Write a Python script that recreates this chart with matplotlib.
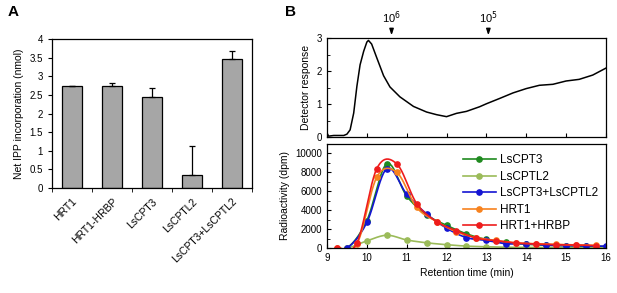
import numpy as np
import matplotlib
matplotlib.use("Agg")
import matplotlib.pyplot as plt
from matplotlib.ticker import MultipleLocator, FixedLocator, NullFormatter, FormatStrFormatter

plt.rcParams['font.family'] = ['Liberation Sans', 'DejaVu Sans']

# panel A data
constructs = ["HRT1", "HRT1-HRBP", "LsCPT3", "LsCPTL2", "LsCPT3+LsCPTL2"]
ipp = [2.75, 2.75, 2.45, 0.35, 3.45]
ipp_err = [0.0, 0.08, 0.23, 0.78, 0.22]

# panel B top: detector trace
det_t = [9.0, 9.04, 9.17, 9.42, 9.5, 9.58, 9.67, 9.75, 9.83, 9.92, 10.0, 10.04,
         10.12, 10.25, 10.42, 10.58, 10.83, 11.17, 11.5, 11.75, 12.0, 12.25,
         12.5, 12.83, 13.0, 13.33, 13.67, 14.0, 14.33, 14.67, 15.0, 15.33,
         15.67, 16.0]
det_r = [0.12, 0.03, 0.05, 0.05, 0.09, 0.22, 0.73, 1.54, 2.19, 2.6, 2.88, 2.93,
         2.82, 2.4, 1.86, 1.52, 1.22, 0.93, 0.76, 0.68, 0.62, 0.72,
         0.78, 0.92, 1.01, 1.17, 1.34, 1.47, 1.57, 1.6, 1.7, 1.75,
         1.88, 2.09]
markers_mw = [10.62, 13.05]
markers_lbl = ["10$^6$", "10$^5$"]

# panel B bottom: radioactivity
t_half = [9.5, 10.0, 10.5, 11.0, 11.5, 12.0, 12.5, 13.0, 13.5, 14.0, 14.5, 15.0, 15.5, 16.0]
lscpt3 = [0, 2900, 8900, 5500, 3500, 2400, 1500, 900, 600, 400, 300, 250, 200, 150]
lscptl2 = [0, 750, 1350, 850, 550, 350, 200, 130, 80, 60, 50, 40, 30, 30]
lscpt3_lscptl2 = [0, 2700, 8400, 5700, 3600, 2100, 1100, 800, 450, 450, 300, 250, 200, 200]
t_quarter = [9.25, 9.75, 10.25, 10.75, 11.25, 11.75, 12.25, 12.75, 13.25, 13.75, 14.25, 14.75, 15.25, 15.75]
hrt1 = [0, 400, 7500, 8000, 4300, 2800, 1700, 1100, 800, 550, 450, 380, 330, 280]
hrt1_hrbp = [0, 530, 8400, 8900, 4700, 2800, 1820, 1050, 770, 530, 420, 350, 320, 250]


def smooth(x, y, n=12):
    # catmull-rom style smoothing, like the Excel "smoothed line"
    x = np.asarray(x, float)
    y = np.asarray(y, float)
    px = np.concatenate([[2 * x[0] - x[1]], x, [2 * x[-1] - x[-2]]])
    py = np.concatenate([[y[0]], y, [y[-1]]])
    xs, ys = [], []
    s = np.linspace(0, 1, n, endpoint=False)
    for i in range(1, len(px) - 2):
        for p, out in ((px, xs), (py, ys)):
            p0, p1, p2, p3 = p[i - 1], p[i], p[i + 1], p[i + 2]
            out.append(0.5 * (2 * p1 + (-p0 + p2) * s + (2 * p0 - 5 * p1 + 4 * p2 - p3) * s ** 2
                              + (-p0 + 3 * p1 - 3 * p2 + p3) * s ** 3))
    xs.append([x[-1]])
    ys.append([y[-1]])
    return np.concatenate(xs), np.concatenate(ys)


fig = plt.figure(figsize=(6.17, 2.93), dpi=100)

# ---- panel A
ax = fig.add_axes([0.0843, 0.358, 0.324, 0.509])
pos = np.arange(len(constructs))
ax.bar(pos, ipp, width=0.5, color="#a6a6a6", edgecolor="black", linewidth=0.9, zorder=2)
ax.errorbar(pos, ipp, yerr=[np.zeros(len(ipp)), ipp_err], fmt="none", ecolor="black",
            elinewidth=0.9, capsize=2.5, capthick=0.9, zorder=3)
ax.set_xlim(-0.5, len(constructs) - 0.5)
ax.set_ylim(0, 4)
ax.yaxis.set_major_locator(MultipleLocator(0.5))
ax.yaxis.set_major_formatter(FormatStrFormatter("%g"))
ax.set_xticks(pos)
ax.set_xticklabels(constructs, rotation=45, ha="right", rotation_mode="anchor", fontsize=7.5)
ax.tick_params(axis="x", length=0, pad=6)
ax.xaxis.set_minor_locator(FixedLocator(np.arange(-0.5, len(constructs), 1.0)))
ax.tick_params(axis="x", which="minor", length=3, direction="out")
ax.tick_params(axis="y", labelsize=7, length=3, direction="out")
ax.set_ylabel("Net IPP incorporation (nmol)", fontsize=7.5)
for s in ax.spines.values():
    s.set_linewidth(0.9)
fig.text(0.012, 0.945, "A", fontsize=11, fontweight="bold")

# ---- panel B top
bt = fig.add_axes([0.530, 0.532, 0.452, 0.338])
bt.plot(det_t, det_r, color="black", lw=1.1)
bt.set_xlim(9, 16)
bt.set_ylim(0, 3)
bt.yaxis.set_major_locator(MultipleLocator(1))
bt.yaxis.set_minor_locator(MultipleLocator(0.5))
bt.xaxis.set_major_locator(MultipleLocator(1))
bt.xaxis.set_major_formatter(NullFormatter())
bt.tick_params(axis="both", which="both", direction="in", labelsize=7)
bt.tick_params(axis="both", which="major", length=3)
bt.tick_params(axis="both", which="minor", length=2)
bt.set_ylabel("Detector response", fontsize=7.5)
for m, lbl in zip(markers_mw, markers_lbl):
    bt.annotate("", xy=(m, 3.0), xytext=(m, 3.35), xycoords="data", annotation_clip=False,
                arrowprops=dict(arrowstyle="-|>,head_length=0.35,head_width=0.12", color="black", lw=1))
    bt.text(m, 3.38, lbl, ha="center", va="bottom", fontsize=8, clip_on=False)
for s in bt.spines.values():
    s.set_linewidth(0.9)
fig.text(0.462, 0.945, "B", fontsize=11, fontweight="bold")

# ---- panel B bottom
bb = fig.add_axes([0.530, 0.1536, 0.452, 0.355])
series = [
    (t_half, lscpt3, "#1f8a1f", "LsCPT3"),
    (t_half, lscptl2, "#9bbb59", "LsCPTL2"),
    (t_half, lscpt3_lscptl2, "#1414d2", "LsCPT3+LsCPTL2"),
    (t_quarter, hrt1, "#f7821e", "HRT1"),
    (t_quarter, hrt1_hrbp, "#ee1c1c", "HRT1+HRBP"),
]
for tx, vals, col, name in series:
    sx, sy = smooth(tx, vals)
    bb.plot(sx, sy, color=col, lw=1.2)
    bb.plot(tx, vals, "o", color=col, ms=3.8)
    bb.plot([], [], "-o", color=col, lw=1.2, ms=3.8, label=name)
bb.set_xlim(9, 16)
bb.set_ylim(0, 11000)
bb.yaxis.set_major_locator(FixedLocator(np.arange(0, 10001, 2000)))
bb.yaxis.set_minor_locator(MultipleLocator(1000))
bb.xaxis.set_major_locator(MultipleLocator(1))
bb.tick_params(axis="both", which="both", direction="in", labelsize=7)
bb.tick_params(axis="both", which="major", length=3)
bb.tick_params(axis="both", which="minor", length=2)
bb.set_xlabel("Retention time (min)", fontsize=7.5)
bb.set_ylabel("Radioactivity (dpm)", fontsize=7.5)
bb.legend(loc="upper right", bbox_to_anchor=(1.0, 0.98), frameon=False, fontsize=8.5,
          handlelength=2.8, labelspacing=0.38, handletextpad=0.3, borderaxespad=0.3)
for s in bb.spines.values():
    s.set_linewidth(0.9)

fig.savefig("out.png", dpi=100)
